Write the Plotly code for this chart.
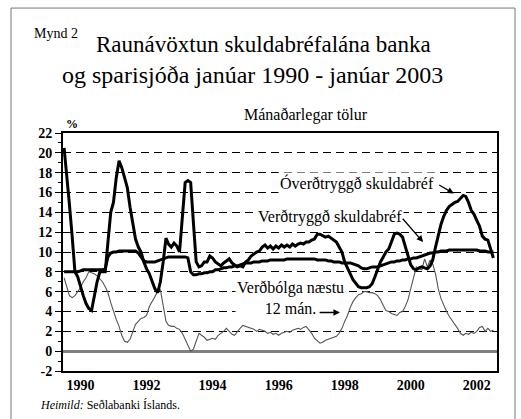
import plotly.graph_objects as go
import pandas as pd

# ---- data (monthly, Jan 1990 - Jan 2003) ----
months = pd.date_range("1990-01-01", "2003-01-01", freq="MS")

overdtryggd = [
    20.5, 17.8, 14.8, 11.5, 8.0, 7.5, 6.5, 5.6, 4.8, 4.3,
    4.1, 5.5, 7.0, 8.0, 8.0, 8.0, 11.0, 14.0, 15.0, 17.5,
    19.2, 18.5, 17.5, 16.5, 14.5, 12.8, 11.3, 10.5, 10.0, 9.0,
    8.3, 7.8, 7.0, 6.3, 5.9, 7.0, 9.0, 11.4, 10.8, 10.5,
    10.9, 10.6, 10.0, 13.5, 17.0, 17.2, 17.0, 13.0, 9.0, 8.5,
    8.6, 9.0, 9.0, 9.6, 9.4, 9.0, 8.8, 8.6, 8.9, 9.1,
    9.3, 8.9, 8.7, 8.5, 8.6, 8.5, 9.0, 9.2, 9.6, 9.8,
    10.0, 10.1, 10.5, 10.7, 10.4, 10.6, 10.3, 10.6, 10.4, 10.7,
    10.5, 10.7, 10.5, 10.8, 10.6, 10.8, 10.9, 10.8, 11.0, 11.0,
    11.2, 11.3, 11.8, 11.8, 11.6, 11.5, 11.6, 11.4, 11.2, 11.0,
    10.5, 10.0, 9.0, 8.3, 7.8, 7.2, 6.8, 6.5, 6.4, 6.4,
    6.4, 6.5, 6.8, 7.5, 8.2, 9.0, 9.5, 10.0, 10.3, 11.0,
    11.8, 11.9, 11.8, 11.5, 10.5, 9.5, 8.7, 8.3, 8.2, 8.4,
    8.5, 8.4, 8.3, 8.6, 9.2, 10.5, 11.8, 12.8, 13.6, 14.2,
    14.6, 14.8, 15.0, 15.1, 15.4, 15.7, 15.6, 15.0, 14.2, 13.8,
    13.2, 12.6, 11.6, 11.3, 11.2, 10.3, 9.4,
]

verdtryggd = [
    8.0, 8.0, 8.0, 8.0, 8.0, 8.0, 8.1, 8.2, 8.2, 8.2,
    8.2, 8.2, 8.2, 8.2, 8.2, 8.3, 9.5, 9.9, 10.0, 10.0,
    10.1, 10.1, 10.1, 10.1, 10.1, 10.1, 10.1, 9.9, 9.5, 9.1,
    9.0, 9.0, 9.0, 9.0, 9.1, 9.2, 9.3, 9.4, 9.5, 9.5,
    9.5, 9.5, 9.5, 9.5, 9.5, 9.4, 8.0, 7.7, 7.7, 7.8,
    7.8, 7.9, 7.9, 8.0, 8.0, 8.2, 8.2, 8.3, 8.4, 8.4,
    8.5, 8.5, 8.6, 8.6, 8.7, 8.8, 8.9, 8.9, 8.9, 9.0,
    9.0, 9.0, 9.1, 9.1, 9.1, 9.2, 9.2, 9.2, 9.2, 9.2,
    9.2, 9.3, 9.3, 9.3, 9.3, 9.3, 9.3, 9.3, 9.3, 9.3,
    9.3, 9.3, 9.2, 9.2, 9.2, 9.2, 9.1, 9.1, 9.0, 9.0,
    9.0, 8.9, 8.9, 8.9, 8.9, 8.8, 8.7, 8.6, 8.4, 8.3,
    8.3, 8.4, 8.5, 8.5, 8.5, 8.6, 8.7, 8.8, 8.9, 9.0,
    9.0, 9.1, 9.1, 9.2, 9.2, 9.3, 9.3, 9.4, 9.4, 9.5,
    9.6, 9.7, 9.8, 9.9, 9.9, 10.0, 10.0, 10.1, 10.1, 10.1,
    10.2, 10.2, 10.2, 10.2, 10.2, 10.2, 10.2, 10.2, 10.2, 10.2,
    10.2, 10.1, 10.1, 10.1, 10.0, 10.0, 10.0,
]

verdbolga = [
    7.4, 6.4, 5.6, 5.4, 5.6, 6.0, 6.4, 7.0, 7.4, 8.0,
    7.9, 7.8, 7.6, 7.3, 7.0, 6.5, 5.9, 4.9, 4.0, 3.2,
    2.5, 1.6, 1.0, 0.9, 1.2, 2.0, 2.7, 3.0, 3.3, 3.4,
    3.6, 4.5, 5.0, 5.6, 6.0, 6.2, 4.5, 3.0, 2.6, 2.5,
    2.5, 2.3, 2.2, 1.8, 1.2, 0.6, 0.0, 0.2, 1.0, 1.8,
    1.6, 1.4, 1.1, 1.2, 1.3, 1.2, 1.6, 1.8, 2.0, 2.3,
    2.0, 1.7, 1.6, 2.0, 2.3, 2.6, 2.5, 2.4, 2.3, 2.2,
    2.0, 2.2, 2.1, 2.0, 1.8, 1.9, 1.7, 1.8, 1.6, 1.8,
    1.9, 2.0, 1.9, 2.1, 2.2, 2.3, 2.2, 2.4, 2.5, 2.2,
    1.8, 1.3, 1.0, 0.8, 0.9, 1.1, 1.2, 1.3, 1.4, 1.5,
    1.8, 2.3, 3.0, 3.6, 4.4, 5.0, 5.4, 5.7, 5.8, 6.0,
    6.0, 5.9, 5.9, 5.8, 5.6, 5.2, 4.6, 4.1, 4.0, 3.8,
    3.7, 3.6, 3.9, 4.0, 4.5, 5.2, 6.3, 7.3, 8.5, 8.3,
    8.2, 9.3, 8.5, 9.2, 8.8, 7.8, 6.3, 5.3, 4.6, 4.0,
    3.5, 3.1, 2.8, 2.3, 1.8, 1.6, 1.8, 1.7, 1.9, 1.8,
    2.0, 2.4, 2.5, 2.0, 2.3, 2.0, 2.1,
]

year_ticks = ["1990-07-01", "1992-07-01", "1994-07-01", "1996-07-01",
              "1998-07-01", "2000-07-01", "2002-07-01"]
year_labels = ["1990", "1992", "1994", "1996", "1998", "2000", "2002"]
y_ticks = list(range(-2, 23, 2))
y_labels = [str(v) for v in y_ticks]

SERIF = "Liberation Serif"

fig = go.Figure()
fig.add_trace(go.Scatter(x=months, y=verdbolga, mode="lines",
                         line=dict(color="#555555", width=1.1),
                         name="Verðbólga næstu 12 mán."))
fig.add_trace(go.Scatter(x=months, y=verdtryggd, mode="lines",
                         line=dict(color="black", width=3),
                         name="Verðtryggð skuldabréf"))
fig.add_trace(go.Scatter(x=months, y=overdtryggd, mode="lines",
                         line=dict(color="black", width=3),
                         name="Óverðtryggð skuldabréf"))

ann = []
# titles (paper coords)
ann.append(dict(text="Mynd 2", x=-0.071, y=1.42, xref="paper", yref="paper",
                xanchor="left", yanchor="middle", showarrow=False,
                font=dict(family=SERIF, size=14, color="black")))
ann.append(dict(text="Raunávöxtun skuldabréfalána banka", x=0.461, y=1.37,
                xref="paper", yref="paper", xanchor="center", yanchor="middle",
                showarrow=False, font=dict(family=SERIF, size=23, color="black")))
ann.append(dict(text="og sparisjóða janúar 1990 - janúar 2003", x=0.437, y=1.244,
                xref="paper", yref="paper", xanchor="center", yanchor="middle",
                showarrow=False, font=dict(family=SERIF, size=24, color="black")))
ann.append(dict(text="Mánaðarlegar tölur", x=0.56, y=1.076,
                xref="paper", yref="paper", xanchor="center", yanchor="middle",
                showarrow=False, font=dict(family=SERIF, size=16, color="black")))
ann.append(dict(text="<b>%</b>", x=0.021, y=1.038, xref="paper", yref="paper",
                xanchor="center", yanchor="middle", showarrow=False,
                font=dict(family=SERIF, size=12, color="black")))
ann.append(dict(text="<i>Heimild:</i> Seðlabanki Íslands.", x=-0.058, y=-0.143,
                xref="paper", yref="paper", xanchor="left", yanchor="middle",
                showarrow=False, font=dict(family=SERIF, size=12, color="black")))

# series labels (data coords)
ann.append(dict(text="Óverðtryggð skuldabréf", x="1998-11-13", y=16.9,
                xanchor="center", yanchor="middle", showarrow=False,
                bgcolor="white", font=dict(family=SERIF, size=16, color="black")))
ann.append(dict(text="Verðtryggð skuldabréf", x="1998-01-15", y=13.5,
                xanchor="center", yanchor="middle", showarrow=False,
                bgcolor="white", font=dict(family=SERIF, size=16, color="black")))
ann.append(dict(text="Verðbólga næstu<br>12 mán.", x="1996-11-10", y=5.4,
                xanchor="center", yanchor="middle", showarrow=False,
                bgcolor="white", font=dict(family=SERIF, size=16, color="black")))
# arrows
arrow_style = dict(showarrow=True, arrowhead=2, arrowsize=1, arrowwidth=1.3,
                   arrowcolor="black", axref="x", ayref="y", text="")
ann.append(dict(x="2001-10-20", y=15.9, ax="2001-04-25", ay=16.85, **arrow_style))
ann.append(dict(x="2000-11-15", y=11.0, ax="2000-03-20", ay=13.5, **arrow_style))
ann.append(dict(x="1998-05-10", y=3.9, ax="1997-09-10", ay=3.9, **arrow_style))

fig.update_layout(
    width=521, height=419,
    margin=dict(l=63, r=24, t=133, b=48),
    paper_bgcolor="white", plot_bgcolor="white",
    showlegend=False,
    font=dict(family=SERIF, color="black"),
    annotations=ann,
    shapes=[dict(type="rect", xref="paper", yref="paper",
                 x0=-0.1198, x1=1.0415, y0=-0.25, y1=1.525,
                 line=dict(color="#777777", width=1))],
)
fig.update_xaxes(
    type="date", range=["1989-12-20", "2003-02-10"],
    tickmode="array", tickvals=year_ticks,
    ticktext=["<b>%s</b>" % t for t in year_labels],
    ticks="", showgrid=False, zeroline=False,
    showline=True, linecolor="black", linewidth=2, mirror=True,
    tickfont=dict(family=SERIF, size=14, color="black"),
)
fig.update_yaxes(
    range=[-2, 22], tickmode="array", tickvals=y_ticks,
    ticktext=["<b>%s</b>" % t for t in y_labels],
    ticks="outside", ticklen=6, tickcolor="black", tickwidth=1,
    minor=dict(dtick=1, tick0=0, ticks="outside", ticklen=3,
               tickcolor="black", showgrid=False),
    showgrid=True, gridcolor="black", gridwidth=1, griddash="8px,5px",
    zeroline=True, zerolinecolor="#808080", zerolinewidth=2.5,
    showline=True, linecolor="black", linewidth=2, mirror=True,
    tickfont=dict(family=SERIF, size=14, color="black"),
)

fig.write_html("out.html", config={"displayModeBar": False},
               post_script="document.body.style.margin='0';")
